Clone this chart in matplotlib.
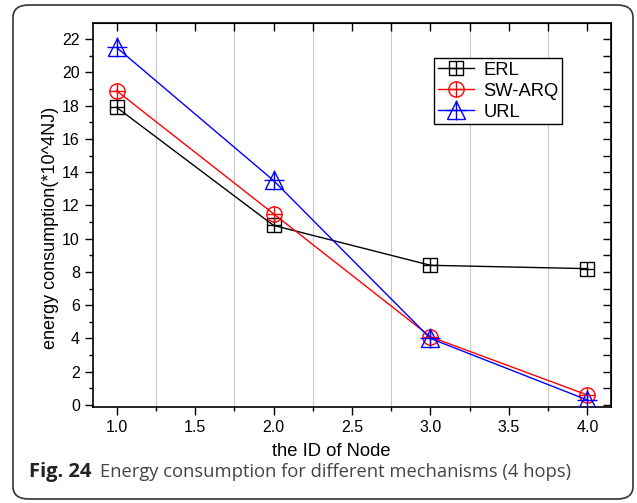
import matplotlib.pyplot as plt
from matplotlib.patches import FancyBboxPatch
from matplotlib.ticker import MultipleLocator

node_ids = [1.0, 2.0, 3.0, 4.0]
erl = [17.9, 10.8, 8.4, 8.2]
sw_arq = [18.9, 11.5, 4.1, 0.6]
url = [21.5, 13.5, 4.0, 0.3]

series = [
    ("ERL", erl, "black", "s", 9.5),
    ("SW-ARQ", sw_arq, "red", "o", 11),
    ("URL", url, "blue", "^", 13),
]

plt.rcParams['font.family'] = ['Liberation Sans', 'DejaVu Sans']

fig = plt.figure(figsize=(6.37, 5.03), dpi=100)
ax = fig.add_axes([93 / 637, 1 - 407 / 503, 518 / 637, 384 / 503])

handles = []
for name, vals, color, mk, ms in series:
    line, = ax.plot(node_ids, vals, color=color, linewidth=1.0, marker=mk,
                    markersize=ms, markerfacecolor='none', markeredgecolor=color,
                    markeredgewidth=1.0, zorder=3)
    plus, = ax.plot(node_ids, vals, linestyle='none', marker='+', color=color,
                    markersize=ms + 2 if mk == '^' else ms, markeredgewidth=1.0, zorder=4)
    handles.append((line, plus))

ax.set_xlim(0.85, 4.15)
ax.set_ylim(-0.12, 22.97)
ax.xaxis.set_major_locator(MultipleLocator(0.5))
ax.xaxis.set_minor_locator(MultipleLocator(0.25))
ax.yaxis.set_major_locator(MultipleLocator(2))
ax.yaxis.set_minor_locator(MultipleLocator(1))
ax.xaxis.set_major_formatter(plt.FormatStrFormatter('%.1f'))

ax.tick_params(axis='both', which='major', direction='out', length=6, width=1,
               labelsize=11.5, top=False, right=False)
ax.tick_params(axis='both', which='minor', direction='out', length=3, width=1,
               top=False, right=False)
sec_x = ax.secondary_xaxis('top')
sec_x.xaxis.set_major_locator(MultipleLocator(0.25))
sec_x.tick_params(direction='in', length=6, width=1, labeltop=False)
sec_y = ax.secondary_yaxis('right')
sec_y.yaxis.set_major_locator(MultipleLocator(1))
sec_y.tick_params(direction='in', length=6, width=1, labelright=False)

for x in [1.25, 1.75, 2.25, 2.75, 3.25, 3.75]:
    ax.axvline(x, color='#c8c8c8', linewidth=0.8, zorder=0)

for sp in ax.spines.values():
    sp.set_linewidth(1.2)

ax.set_xlabel("the ID of Node", fontsize=13.2, labelpad=5)
ax.xaxis.set_label_coords(0.46, -0.095)
ax.set_ylabel("energy consumption(*10^4NJ)", fontsize=13, labelpad=5)
ax.yaxis.set_label_coords(-0.066, 0.466)

leg = ax.legend(handles, [s[0] for s in series], loc='upper left',
                bbox_to_anchor=(0.658, 0.909), fontsize=13.2, frameon=True,
                fancybox=False, edgecolor='black', framealpha=1,
                handlelength=2.0, borderpad=0.2, labelspacing=0.22,
                handletextpad=0.5, borderaxespad=0)
leg.get_frame().set_linewidth(1.0)

border = FancyBboxPatch((13 / 637, 4 / 503), 620 / 637, 494 / 503,
                        boxstyle="round,pad=0,rounding_size=0.025",
                        transform=fig.transFigure, facecolor='none',
                        edgecolor='#333333', linewidth=1.2)
fig.patches.append(border)

fig.text(29 / 637, 1 - 472 / 503, "Fig. 24", fontsize=14.5, fontweight='bold',
         color='#222222', va='center', family=['Open Sans', 'DejaVu Sans'])
fig.text(100 / 637, 1 - 472 / 503, "Energy consumption for different mechanisms (4 hops)",
         fontsize=13.2, color='#444444', va='center', family=['Open Sans', 'DejaVu Sans'])

fig.savefig("out.png", dpi=100)
